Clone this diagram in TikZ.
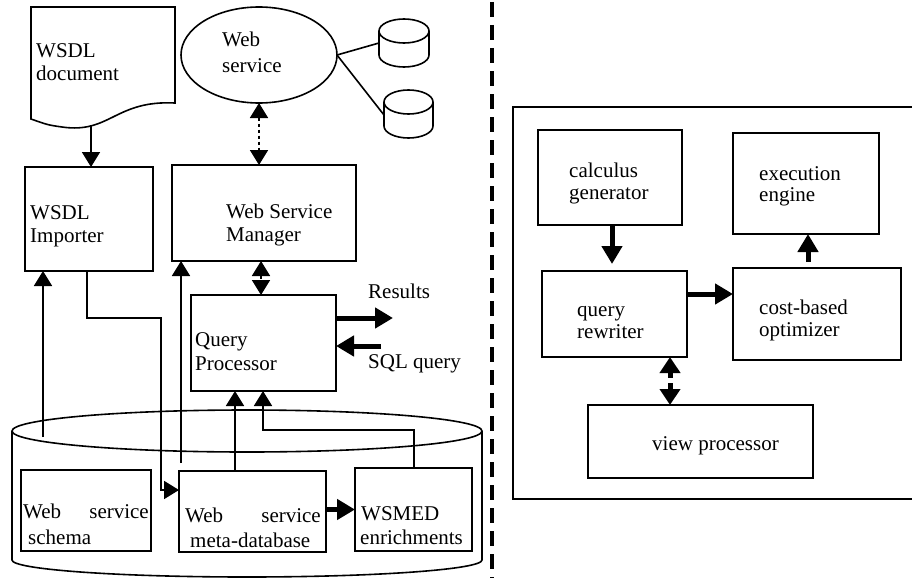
\documentclass[tikz,border=0pt]{standalone}
\usepackage{fontspec}
\setmainfont{Liberation Serif}
\usetikzlibrary{arrows.meta,calc,shapes.geometric}
\newcommand{\mybox}[5]{\node[box,minimum width={#4-#2},minimum height={#5-#3}] (#1) at ({(#2+#4)/2},{(#3+#5)/2}) {};}
\begin{document}
\begin{tikzpicture}[x=1pt,y=-1pt,
  box/.style={draw,line width=1.6pt,inner sep=0pt,outer sep=0pt,rectangle},
  txt/.style={anchor=base west,inner sep=0pt,font=\rmfamily\fontsize{21}{23}\selectfont},
  txte/.style={anchor=base east,inner sep=0pt,font=\rmfamily\fontsize{21}{23}\selectfont},
  arr/.style={line width=1.8pt,-{Triangle[width=18pt,length=15pt]}},
  darr/.style={line width=1.8pt,dash pattern=on 3pt off 3pt,{Triangle[width=18pt,length=15pt]}-{Triangle[width=18pt,length=15pt]}},
  thk/.style={line width=5pt,-{Triangle[width=20pt,length=18pt]}},
  dthk/.style={line width=5pt,dash pattern=on 6pt off 5pt,{Triangle[width=20pt,length=16pt]}-{Triangle[width=20pt,length=16pt]}},
  plain/.style={line width=1.6pt}]
\useasboundingbox (0,0) rectangle (912,578);
% ---------- left part ----------
% WSDL document
\draw[plain] (31,7) -- (175,7) -- (175,103) .. controls (115,100) and (110,134) .. (62,127) .. controls (48,125) .. (31,119) -- cycle;
\coordinate (docb) at (91,125);
\node[txt] (tdoc1) at (36,57) {WSDL};
\node[txt] (tdoc2) at (36,80) {document};
% Web service ellipse
\node[ellipse,draw,line width=1.6pt,minimum width=156pt,minimum height=96pt,inner sep=0pt,outer sep=0pt] (ws) at (259,55) {};
\node[txt] (tws1) at (222,47) {Web};
\node[txt] (tws2) at (222,72) {service};
% small cylinders
\draw[plain] (404,31) ellipse [x radius=25, y radius=12];
\draw[plain] (379,31) -- (379,55) arc[start angle=180,end angle=0,x radius=25,y radius=12] -- (429,31);
\coordinate (c1) at (379,43);
\draw[plain] (408.5,102) ellipse [x radius=24.5, y radius=12];
\draw[plain] (384,102) -- (384,126) arc[start angle=180,end angle=0,x radius=24.5,y radius=12] -- (433,102);
\coordinate (c2) at (384,115);
\draw[plain] (ws.east) -- (c1);
\draw[plain] (ws.east) -- (c2);
% boxes
\mybox{imp}{25}{167}{153}{271}
\node[txt] (timp1) at (30,219) {WSDL};
\node[txt] (timp2) at (30,242) {Importer};
\mybox{wsm}{172}{165}{356}{261}
\node[txt] (twsm1) at (226,218) {Web Service};
\node[txt] (twsm2) at (226,241) {Manager};
\mybox{qp}{191}{295}{336}{391}
\node[txt] (tqp1) at (195,346) {Query};
\node[txt] (tqp2) at (195,370) {Processor};
% big cylinder
\draw[plain] (247,431) ellipse [x radius=235, y radius=21];
\draw[plain] (12,431) -- (12,560) arc[start angle=180,end angle=0,x radius=235,y radius=17] -- (482,431);
\mybox{sch}{21}{470}{151}{551}
\node[txt] (tsch1) at (23,518) {Web};
\node[txte] (tsch2) at (149,518) {service};
\node[txt] (tsch3) at (28,544) {schema};
\mybox{mdb}{179}{471}{326}{552}
\node[txt] (tmdb1) at (185,522) {Web};
\node[txte] (tmdb2) at (321,522) {service};
\node[txt] (tmdb3) at (190,547) {meta-database};
\mybox{enr}{355}{468}{472}{551}
\node[txt] (tenr1) at (361,520) {WSMED};
\node[txt] (tenr2) at (360,544) {enrichments};
% connectors left
\draw[arr] (docb) -- (docb |- imp.north);
\draw[darr] (ws.south) -- (ws.south |- wsm.north);
\draw[darr] ($(wsm.south west)+(89,0)$) -- ($(qp.north west)+(70,0)$);
\coordinate (s1) at (43,437);
\draw[arr] (s1) -- (s1 |- imp.south);
\coordinate (s2) at (181,463);
\draw[arr] (s2) -- (s2 |- wsm.south);
\draw[arr] ($(imp.south west)+(62,0)$) |- (161,318) |- ($(mdb.north west)+(0,19)$);
\draw[arr] ($(mdb.north west)+(56,0)$) -- ($(qp.south west)+(44,0)$);
\draw[arr] ($(enr.north west)+(59,0)$) |- ($(qp.south west)+(72,39)$) -- ($(qp.south west)+(72,0)$);
\draw[thk] (mdb.east |- enr.west) -- (enr.west);
\coordinate (res) at (393,318);
\draw[thk] (res -| qp.east) -- (res);
\coordinate (sql) at (381,346);
\draw[thk] (sql) -- (sql -| qp.east);
\node[txt] (tres) at (368,298) {Results};
\node[txt] (tsql) at (368,368) {SQL query};
% divider
\draw[line width=4pt,dash pattern=on 15pt off 8pt] (492,2) -- (492,578);
% ---------- right part ----------
\draw[plain] (513,107) rectangle (916,499);
\mybox{cg}{538}{130}{682}{225}
\node[txt] (tcg1) at (569,177) {calculus};
\node[txt] (tcg2) at (569,199) {generator};
\mybox{ee}{733}{133}{879}{234}
\node[txt] (tee1) at (759,180) {execution};
\node[txt] (tee2) at (759,201) {engine};
\mybox{qr}{542}{271}{687}{357}
\node[txt] (tqr1) at (577,316) {query};
\node[txt] (tqr2) at (577,338) {rewriter};
\mybox{opt}{733}{268}{901}{360}
\node[txt] (topt1) at (759,314) {cost-based};
\node[txt] (topt2) at (759,336) {optimizer};
\mybox{vp}{588}{405}{813}{478}
\node[txt] (tvp) at (652,450) {view processor};
\draw[thk,shorten >=7pt] ($(cg.south west)+(74,0)$) -- ($(qr.north west)+(70,0)$);
\draw[thk,shorten <=6pt] ($(opt.north west)+(75,0)$) -- ($(ee.south west)+(75,0)$);
\coordinate (qro) at ($(qr.north east)+(0,23)$);
\draw[thk] (qro) -- (qro -| opt.west);
\draw[dthk] ($(qr.south west)+(128,0)$) -- ($(vp.north west)+(82,0)$);
\end{tikzpicture}
\end{document}
